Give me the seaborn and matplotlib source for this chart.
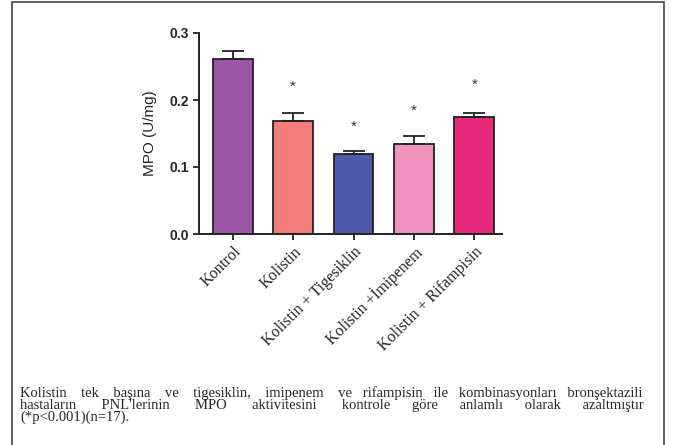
import numpy as np
import seaborn as sns
import pandas as pd
import matplotlib
matplotlib.use("Agg")
from matplotlib import pyplot as plt
from matplotlib.patches import Rectangle
from matplotlib.font_manager import FontProperties

# data
groups = ["Kontrol", "Kolistin", "Kolistin + Tigesiklin", "Kolistin +İmipenem", "Kolistin + Rifampisin"]
mpo_mean = [0.261, 0.169, 0.119, 0.135, 0.174]
mpo_sem = [0.012, 0.012, 0.005, 0.012, 0.007]
significant = [False, True, True, True, True]
star_height = [0.0, 0.220, 0.160, 0.184, 0.222]
bar_colors = ["#9b57a5", "#f17c79", "#5059a9", "#ef92c0", "#e8287b"]

caption_lines = [
    "Kolistin tek başına ve tigesiklin, imipenem ve rifampisin ile kombinasyonları bronşektazili",
    "hastaların PNL'lerinin MPO aktivitesini kontrole göre anlamlı olarak azaltmıştır",
    "(*p<0.001)(n=17).",
]

sns.set_style("ticks")
plt.rcParams["font.family"] = ["Liberation Sans", "DejaVu Sans"]

fig = plt.figure(figsize=(6.76, 4.45), dpi=100)
ax = fig.add_axes([199 / 676, 1 - 234 / 445, 303 / 676, 201 / 445])

df = pd.DataFrame({"group": groups, "mpo": mpo_mean})
sns.barplot(data=df, x="group", y="mpo", hue="group", palette=bar_colors,
            saturation=1, errorbar=None, width=0.66, edgecolor="#222222",
            linewidth=1.3, legend=False, ax=ax)

# one-sided error bars (upper only)
xs = np.arange(len(groups))
ax.errorbar(xs, mpo_mean, yerr=[np.zeros(len(groups)), mpo_sem], fmt="none",
            ecolor="#222222", elinewidth=1.3, capsize=8, capthick=1.3, zorder=5)

for x, sig, h in zip(xs, significant, star_height):
    if sig:
        ax.text(x, h, "*", ha="center", va="center", fontsize=11, color="#333333")

ax.set_ylim(0, 0.3)
ax.set_xlim(-0.56, 4.46)
ax.set_yticks([0.0, 0.1, 0.2, 0.3])
ax.set_yticklabels(["0.0", "0.1", "0.2", "0.3"], fontweight="bold", fontsize=10)
ax.set_ylabel("MPO (U/mg)", fontsize=11, labelpad=9)
ax.set_xlabel("")
ax.set_xticks(xs)
ax.set_xticklabels(groups, rotation=45, ha="right", rotation_mode="anchor",
                   family="Liberation Serif", fontsize=11.5)
sns.despine(ax=ax)
for s in ["left", "bottom"]:
    ax.spines[s].set_linewidth(1.4)
    ax.spines[s].set_color("#222222")
ax.tick_params(axis="both", width=1.3, length=4, color="#222222", pad=3)

# frame around the whole panel
fig.patches.append(Rectangle((12 / 676, -0.05), 652 / 676, 1 - 1.5 / 445 + 0.05,
                             transform=fig.transFigure, fill=False,
                             edgecolor="#444444", linewidth=1.2))

# caption: justify first two lines by padding the gaps with spaces
renderer = fig.canvas.get_renderer()
fp = FontProperties(family="Liberation Serif", size=10.5)
def text_w(s):
    return renderer.get_text_width_height_descent(s, fp, ismath=False)[0]

target = 622
space_w = text_w("a a") - text_w("aa")
out_lines = []
for i, line in enumerate(caption_lines):
    if i < 2:
        words = line.split(" ")
        ngaps = len(words) - 1
        extra = target - sum(text_w(w) for w in words)
        total_sp = max(ngaps, int(round(extra / space_w)))
        base, rem = divmod(total_sp, ngaps)
        parts = [words[0]]
        for k, w in enumerate(words[1:]):
            parts.append(" " * (base + (1 if k < rem else 0)) + w)
        out_lines.append("".join(parts))
    else:
        out_lines.append(line)

# baseline of the last line
lp_h = renderer.get_text_width_height_descent("lp", fp, ismath=False)[1]
fig.text(20 / 676, 1 - 421 / 445, "\n".join(out_lines), fontproperties=fp,
         va="baseline", ha="left", multialignment="left",
         linespacing=11.5 / lp_h)

fig.savefig("out.png", dpi=100)
